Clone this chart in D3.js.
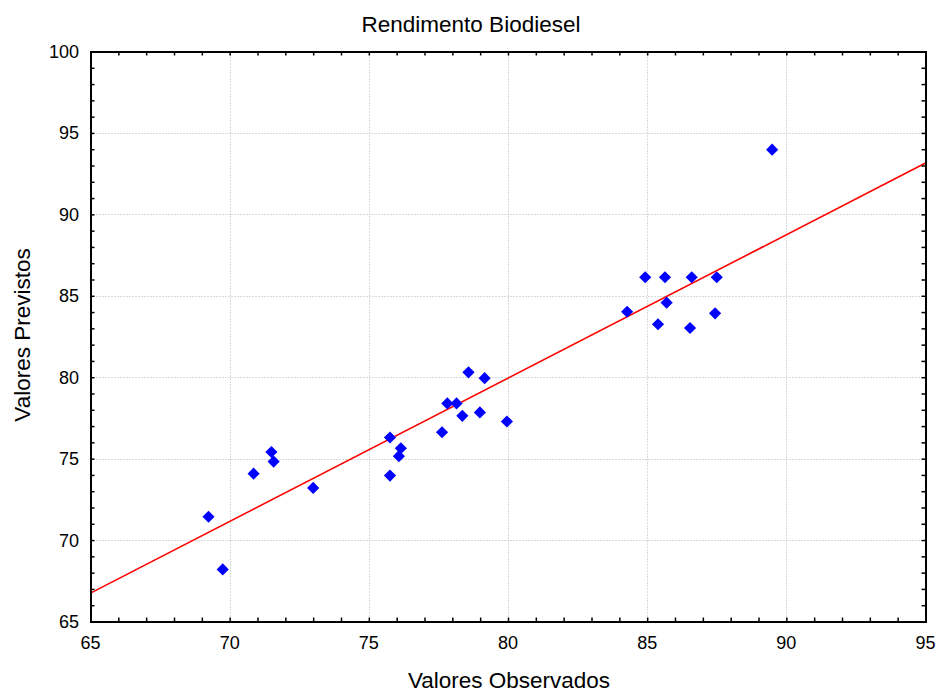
<!DOCTYPE html>
<html><head><meta charset="utf-8">
<script src="https://cdn.jsdelivr.net/npm/d3@7"></script>
<style>body{margin:0;background:#fff}svg text{font-family:"Liberation Sans",Arial,sans-serif;fill:#000}</style>
</head><body>
<svg id="c" width="937" height="695"></svg>
<script>
const observed = [69.24,69.75,70.86,71.5,71.58,73.0,75.76,75.76,76.08,76.15,77.63,77.82,78.15,78.36,78.58,78.99,79.16,79.96,
  84.93,85.64,86.6,87.5,84.28,85.7,85.39,86.54,87.44,89.49];
const predicted = [71.43,68.2,74.08,75.41,74.82,73.2,76.3,73.96,75.15,75.64,76.62,78.39,78.39,77.63,80.3,77.84,79.94,77.28,
  86.14,86.14,86.14,86.14,84.02,84.58,83.25,83.02,83.92,93.97];
const fitX = [65, 95];
const fitY = [66.74, 93.15];
const xTicks = [65,70,75,80,85,90,95];
const yTicks = [65,70,75,80,85,90,95,100];
const title = "Rendimento Biodiesel";
const xTitle = "Valores Observados";
const yTitle = "Valores Previstos";

const svg = d3.select("#c");
const L=90.5, R=925.5, T=51.5, B=621.5;
const x = d3.scaleLinear().domain([65,95]).range([L,R]);
const y = d3.scaleLinear().domain([65,100]).range([B,T]);

// grid
const g = svg.append("g");
g.selectAll(".gx").data(xTicks.slice(1,-1)).join("line")
  .attr("x1",d=>Math.round(x(d))+0.5).attr("x2",d=>Math.round(x(d))+0.5).attr("y1",T).attr("y2",B)
  .attr("stroke","#b4b4b4").attr("stroke-width",1).attr("stroke-dasharray","1,2");
g.selectAll(".gy").data(yTicks.slice(1,-1)).join("line")
  .attr("y1",d=>Math.round(y(d))+0.5).attr("y2",d=>Math.round(y(d))+0.5).attr("x1",L).attr("x2",R)
  .attr("stroke","#b4b4b4").attr("stroke-width",1).attr("stroke-dasharray","1,2");

// fit line
svg.append("line").attr("x1",x(fitX[0])).attr("y1",y(fitY[0])).attr("x2",x(fitX[1])).attr("y2",y(fitY[1]))
  .attr("stroke","#ff0000").attr("stroke-width",1.6);

// points
const sym = d3.symbol().type(d3.symbolSquare).size(74);
svg.selectAll(".pt").data(observed.map((o,i)=>[o,predicted[i]])).join("path")
  .attr("d",sym).attr("transform",d=>`translate(${x(d[0])},${y(d[1])}) rotate(45)`)
  .attr("fill","#0000ff");

// axes with inward ticks on all 4 sides
const minorX = d3.range(65,96,1), minorY = d3.range(65,101,1);
function addAxis(axis, tr){
  svg.append("g").attr("transform",tr).call(axis).call(a=>{a.select(".domain").attr("stroke-width",2);a.selectAll("line").attr("stroke-width",1.5);});
}
addAxis(d3.axisBottom(x).tickValues(minorX).tickSize(-4).tickFormat(""), `translate(0,${B})`);
addAxis(d3.axisTop(x).tickValues(minorX).tickSize(-4).tickFormat(""), `translate(0,${T})`);
addAxis(d3.axisLeft(y).tickValues(minorY).tickSize(-4).tickFormat(""), `translate(${L},0)`);
addAxis(d3.axisRight(y).tickValues(minorY).tickSize(-4).tickFormat(""), `translate(${R},0)`);

// labels
svg.selectAll(".xl").data(xTicks).join("text").attr("x",d=>x(d)).attr("y",B+27)
  .attr("text-anchor","middle").attr("font-size",18).text(d=>d);
svg.selectAll(".yl").data(yTicks).join("text").attr("x",L-11.5).attr("y",d=>y(d)+6.5)
  .attr("text-anchor","end").attr("font-size",18).text(d=>d);

svg.append("text").attr("x",471).attr("y",32).attr("text-anchor","middle").attr("font-size",22.5).text(title);
svg.append("text").attr("x",509).attr("y",688).attr("text-anchor","middle").attr("font-size",22.5).text(xTitle);
svg.append("text").attr("transform","translate(30,335) rotate(-90)").attr("text-anchor","middle").attr("font-size",22.5).text(yTitle);
</script>
</body></html>
